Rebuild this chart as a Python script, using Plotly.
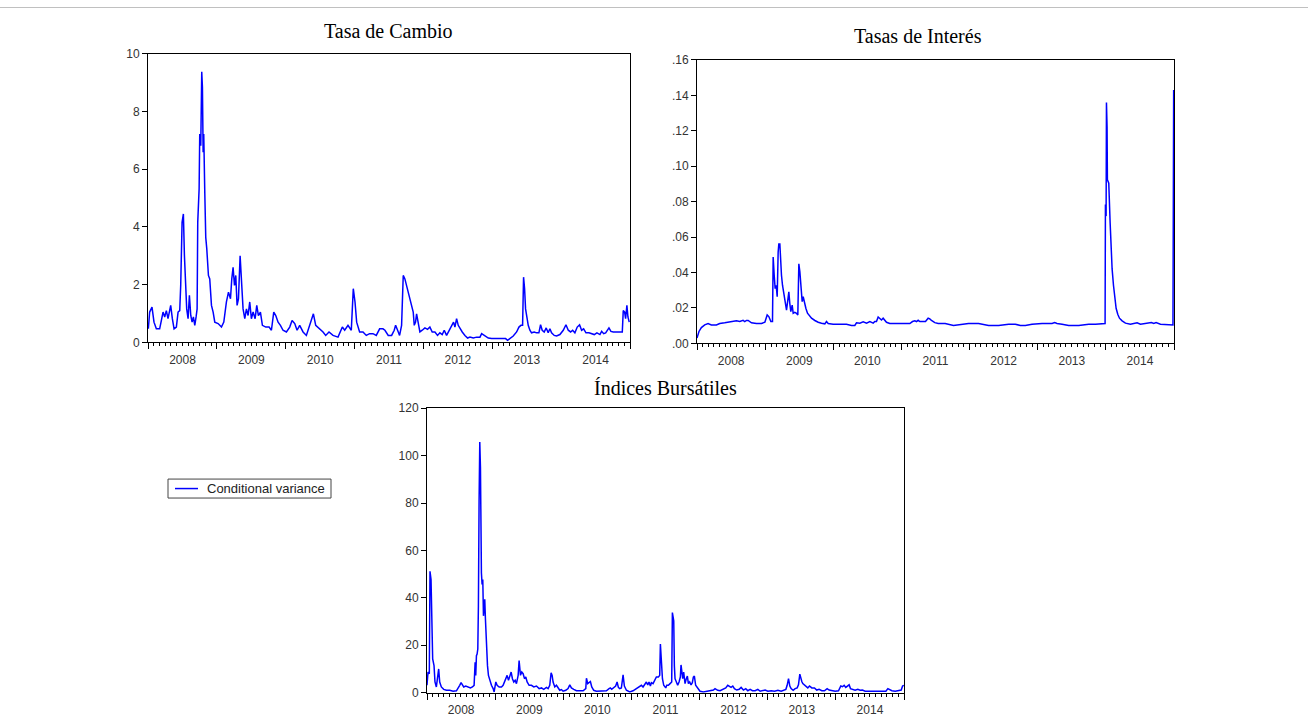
import pandas as pd
import plotly.graph_objects as go

# ---------------- data (decimal years, values) ----------------
tc_t = [2008.005, 2008.024, 2008.058, 2008.087, 2008.121, 2008.169, 2008.194, 2008.218, 2008.242, 2008.266,
        2008.290, 2008.315, 2008.329, 2008.353, 2008.378, 2008.411, 2008.436, 2008.460, 2008.474, 2008.494,
        2008.513, 2008.528, 2008.542, 2008.561, 2008.581, 2008.600, 2008.620, 2008.639, 2008.658, 2008.678,
        2008.697, 2008.712, 2008.721, 2008.741, 2008.750, 2008.765, 2008.779, 2008.789, 2008.799, 2008.808,
        2008.823, 2008.837, 2008.852, 2008.876, 2008.895, 2008.920, 2008.944, 2008.968, 2009.016, 2009.065,
        2009.099, 2009.118, 2009.137, 2009.167, 2009.196, 2009.215, 2009.234, 2009.254, 2009.273, 2009.292,
        2009.312, 2009.336, 2009.355, 2009.379, 2009.404, 2009.428, 2009.452, 2009.476, 2009.500, 2009.525,
        2009.554, 2009.578, 2009.602, 2009.631, 2009.660, 2009.709, 2009.757, 2009.791, 2009.825, 2009.854,
        2009.888, 2009.922, 2009.960, 2010.009, 2010.057, 2010.091, 2010.130, 2010.164, 2010.202, 2010.251,
        2010.299, 2010.348, 2010.377, 2010.401, 2010.435, 2010.493, 2010.541, 2010.580, 2010.628, 2010.686,
        2010.759, 2010.822, 2010.856, 2010.904, 2010.952, 2010.981, 2011.006, 2011.030, 2011.073, 2011.122,
        2011.170, 2011.218, 2011.267, 2011.315, 2011.364, 2011.412, 2011.441, 2011.489, 2011.538, 2011.576,
        2011.596, 2011.625, 2011.654, 2011.683, 2011.707, 2011.731, 2011.755, 2011.780, 2011.804, 2011.828,
        2011.852, 2011.867, 2011.886, 2011.901, 2011.925, 2011.949, 2011.983, 2012.022, 2012.060, 2012.094,
        2012.128, 2012.167, 2012.205, 2012.239, 2012.273, 2012.302, 2012.336, 2012.360, 2012.389, 2012.418,
        2012.437, 2012.457, 2012.481, 2012.505, 2012.529, 2012.563, 2012.602, 2012.641, 2012.675, 2012.723,
        2012.771, 2012.820, 2012.844, 2012.883, 2012.941, 2012.989, 2013.062, 2013.134, 2013.192, 2013.221,
        2013.255, 2013.303, 2013.352, 2013.386, 2013.415, 2013.439, 2013.453, 2013.468, 2013.482, 2013.501,
        2013.521, 2013.545, 2013.569, 2013.608, 2013.642, 2013.676, 2013.700, 2013.724, 2013.753, 2013.782,
        2013.811, 2013.836, 2013.860, 2013.899, 2013.933, 2013.981, 2014.030, 2014.069, 2014.103, 2014.137,
        2014.166, 2014.199, 2014.233, 2014.267, 2014.297, 2014.326, 2014.360, 2014.403, 2014.442, 2014.481,
        2014.519, 2014.563, 2014.588, 2014.617, 2014.646, 2014.675, 2014.694, 2014.723, 2014.757, 2014.805,
        2014.854, 2014.888, 2014.902, 2014.922, 2014.936, 2014.955, 2014.970, 2014.989]
tc_v = [0.47, 1.05, 1.22, 0.70, 0.47, 0.47, 0.76, 1.05, 0.88, 1.10,
        0.82, 1.10, 1.28, 0.82, 0.47, 0.53, 1.05, 1.10, 1.97, 4.16,
        4.45, 3.00, 2.20, 1.16, 0.82, 1.63, 0.93, 0.70, 0.88, 0.59,
        0.88, 1.16, 4.16, 5.32, 7.22, 6.82, 9.38, 8.84, 6.59, 7.22,
        5.20, 3.64, 3.24, 2.32, 2.20, 1.28, 1.05, 0.70, 0.65, 0.53,
        0.70, 1.05, 1.40, 1.74, 1.51, 2.20, 2.60, 1.97, 2.32, 1.28,
        1.51, 3.00, 2.20, 1.16, 0.82, 1.16, 0.93, 1.40, 0.82, 1.05,
        0.82, 1.28, 0.93, 1.05, 0.59, 0.53, 0.53, 0.42, 1.05, 0.93,
        0.70, 0.59, 0.42, 0.36, 0.53, 0.76, 0.65, 0.42, 0.59, 0.36,
        0.24, 0.59, 0.82, 0.99, 0.59, 0.47, 0.36, 0.24, 0.36, 0.24,
        0.18, 0.53, 0.42, 0.59, 0.42, 1.86, 1.40, 0.70, 0.36, 0.36,
        0.24, 0.30, 0.30, 0.24, 0.47, 0.47, 0.42, 0.24, 0.24, 0.42,
        0.59, 0.42, 0.24, 0.59, 2.32, 2.20, 1.97, 1.74, 1.51, 1.28,
        1.05, 0.59, 0.70, 0.99, 0.59, 0.36, 0.42, 0.50, 0.45, 0.53,
        0.36, 0.36, 0.24, 0.33, 0.27, 0.42, 0.24, 0.36, 0.47, 0.59,
        0.70, 0.53, 0.82, 0.59, 0.47, 0.36, 0.24, 0.15, 0.18, 0.15,
        0.18, 0.18, 0.30, 0.24, 0.15, 0.13, 0.13, 0.13, 0.13, 0.07,
        0.13, 0.22, 0.36, 0.53, 0.59, 0.59, 2.26, 1.86, 1.16, 0.82,
        0.59, 0.42, 0.33, 0.36, 0.33, 0.33, 0.61, 0.42, 0.36, 0.50,
        0.33, 0.47, 0.33, 0.24, 0.22, 0.27, 0.42, 0.61, 0.42, 0.36,
        0.42, 0.33, 0.53, 0.61, 0.42, 0.47, 0.33, 0.33, 0.30, 0.27,
        0.33, 0.27, 0.38, 0.30, 0.33, 0.42, 0.50, 0.38, 0.36, 0.36,
        0.36, 0.36, 1.10, 1.05, 0.82, 1.28, 0.88, 0.70]

ti_t = [2008.000, 2008.029, 2008.064, 2008.113, 2008.162, 2008.210, 2008.284, 2008.333, 2008.406, 2008.480,
        2008.529, 2008.578, 2008.627, 2008.675, 2008.700, 2008.724, 2008.749, 2008.798, 2008.871, 2008.945,
        2008.994, 2009.028, 2009.052, 2009.082, 2009.106, 2009.116, 2009.131, 2009.145, 2009.160, 2009.175,
        2009.189, 2009.199, 2009.214, 2009.224, 2009.238, 2009.253, 2009.273, 2009.292, 2009.312, 2009.331,
        2009.346, 2009.360, 2009.375, 2009.395, 2009.410, 2009.434, 2009.459, 2009.478, 2009.493, 2009.508,
        2009.522, 2009.542, 2009.557, 2009.576, 2009.596, 2009.620, 2009.645, 2009.679, 2009.728, 2009.777,
        2009.826, 2009.875, 2009.899, 2009.924, 2009.997, 2010.095, 2010.193, 2010.266, 2010.315, 2010.340,
        2010.389, 2010.438, 2010.487, 2010.536, 2010.585, 2010.609, 2010.633, 2010.658, 2010.682, 2010.707,
        2010.731, 2010.756, 2010.780, 2010.829, 2010.878, 2010.976, 2011.074, 2011.123, 2011.162, 2011.196,
        2011.221, 2011.245, 2011.270, 2011.294, 2011.319, 2011.353, 2011.392, 2011.416, 2011.441, 2011.466,
        2011.490, 2011.539, 2011.642, 2011.764, 2011.887, 2011.985, 2012.132, 2012.279, 2012.426, 2012.573,
        2012.670, 2012.744, 2012.817, 2012.915, 2013.062, 2013.209, 2013.248, 2013.282, 2013.356, 2013.454,
        2013.601, 2013.748, 2013.846, 2013.969, 2013.988, 2013.993, 2014.003, 2014.008, 2014.017, 2014.022,
        2014.042, 2014.062, 2014.076, 2014.091, 2014.111, 2014.130, 2014.150, 2014.174, 2014.199, 2014.238,
        2014.287, 2014.360, 2014.409, 2014.458, 2014.507, 2014.580, 2014.668, 2014.703, 2014.737, 2014.801,
        2014.874, 2014.948, 2014.985, 2014.995]
ti_v = [0.0030, 0.0067, 0.0089, 0.0104, 0.0112, 0.0104, 0.0104, 0.0112, 0.0116, 0.0121,
        0.0123, 0.0127, 0.0123, 0.0130, 0.0123, 0.0129, 0.0129, 0.0116, 0.0112, 0.0112,
        0.0119, 0.0160, 0.0151, 0.0123, 0.0123, 0.0487, 0.0384, 0.0309, 0.0328, 0.0263,
        0.0514, 0.0561, 0.0561, 0.0440, 0.0384, 0.0328, 0.0272, 0.0235, 0.0188, 0.0244,
        0.0291, 0.0226, 0.0179, 0.0216, 0.0170, 0.0175, 0.0170, 0.0160, 0.0449, 0.0403,
        0.0328, 0.0235, 0.0263, 0.0226, 0.0198, 0.0170, 0.0160, 0.0142, 0.0129, 0.0119,
        0.0114, 0.0110, 0.0123, 0.0112, 0.0108, 0.0108, 0.0108, 0.0101, 0.0101, 0.0116,
        0.0114, 0.0121, 0.0114, 0.0123, 0.0114, 0.0123, 0.0123, 0.0149, 0.0138, 0.0132,
        0.0142, 0.0129, 0.0119, 0.0112, 0.0112, 0.0112, 0.0112, 0.0112, 0.0123, 0.0127,
        0.0123, 0.0130, 0.0123, 0.0123, 0.0123, 0.0123, 0.0142, 0.0138, 0.0129, 0.0123,
        0.0117, 0.0112, 0.0112, 0.0101, 0.0108, 0.0112, 0.0112, 0.0101, 0.0101, 0.0108,
        0.0108, 0.0101, 0.0101, 0.0108, 0.0112, 0.0112, 0.0117, 0.0112, 0.0108, 0.0101,
        0.0101, 0.0108, 0.0108, 0.0108, 0.0112, 0.0783, 0.0718, 0.1360, 0.1220, 0.0923,
        0.0904, 0.0681, 0.0532, 0.0420, 0.0328, 0.0253, 0.0198, 0.0164, 0.0142, 0.0127,
        0.0114, 0.0108, 0.0112, 0.0116, 0.0108, 0.0112, 0.0117, 0.0112, 0.0117, 0.0108,
        0.0108, 0.0108, 0.0104, 0.1430]

ib_t = [2008.000, 2008.015, 2008.034, 2008.044, 2008.059, 2008.068, 2008.083, 2008.103, 2008.117, 2008.137,
        2008.157, 2008.171, 2008.186, 2008.210, 2008.245, 2008.284, 2008.333, 2008.382, 2008.431, 2008.455,
        2008.479, 2008.499, 2008.519, 2008.538, 2008.568, 2008.602, 2008.636, 2008.665, 2008.690, 2008.705,
        2008.714, 2008.724, 2008.734, 2008.744, 2008.753, 2008.763, 2008.773, 2008.783, 2008.788, 2008.797,
        2008.807, 2008.817, 2008.827, 2008.837, 2008.846, 2008.856, 2008.871, 2008.886, 2008.900, 2008.920,
        2008.944, 2008.969, 2008.983, 2009.008, 2009.027, 2009.057, 2009.091, 2009.115, 2009.155, 2009.174,
        2009.194, 2009.213, 2009.233, 2009.252, 2009.272, 2009.292, 2009.311, 2009.336, 2009.350, 2009.370,
        2009.389, 2009.409, 2009.429, 2009.448, 2009.468, 2009.497, 2009.531, 2009.566, 2009.605, 2009.644,
        2009.678, 2009.712, 2009.751, 2009.776, 2009.800, 2009.820, 2009.835, 2009.849, 2009.874, 2009.898,
        2009.923, 2009.947, 2009.972, 2009.996, 2010.035, 2010.069, 2010.094, 2010.118, 2010.153, 2010.192,
        2010.241, 2010.290, 2010.329, 2010.339, 2010.358, 2010.378, 2010.397, 2010.417, 2010.446, 2010.485,
        2010.534, 2010.583, 2010.632, 2010.671, 2010.690, 2010.710, 2010.734, 2010.768, 2010.789, 2010.808,
        2010.828, 2010.852, 2010.877, 2010.896, 2010.926, 2010.975, 2011.023, 2011.072, 2011.111, 2011.146,
        2011.170, 2011.195, 2011.219, 2011.239, 2011.258, 2011.278, 2011.293, 2011.317, 2011.342, 2011.366,
        2011.396, 2011.415, 2011.425, 2011.440, 2011.455, 2011.474, 2011.504, 2011.518, 2011.542, 2011.567,
        2011.591, 2011.601, 2011.611, 2011.621, 2011.630, 2011.640, 2011.660, 2011.679, 2011.699, 2011.718,
        2011.728, 2011.738, 2011.753, 2011.767, 2011.787, 2011.806, 2011.821, 2011.836, 2011.855, 2011.875,
        2011.894, 2011.909, 2011.924, 2011.943, 2011.973, 2012.007, 2012.056, 2012.105, 2012.154, 2012.203,
        2012.227, 2012.266, 2012.301, 2012.350, 2012.384, 2012.413, 2012.437, 2012.462, 2012.487, 2012.511,
        2012.545, 2012.580, 2012.609, 2012.643, 2012.677, 2012.707, 2012.741, 2012.775, 2012.814, 2012.854,
        2012.888, 2012.922, 2012.961, 2013.001, 2013.050, 2013.099, 2013.148, 2013.196, 2013.230, 2013.265,
        2013.284, 2013.304, 2013.323, 2013.342, 2013.372, 2013.401, 2013.431, 2013.450, 2013.470, 2013.484,
        2013.499, 2013.514, 2013.538, 2013.563, 2013.587, 2013.612, 2013.646, 2013.685, 2013.719, 2013.753,
        2013.793, 2013.832, 2013.871, 2013.901, 2013.940, 2013.989, 2014.038, 2014.072, 2014.096, 2014.121,
        2014.145, 2014.175, 2014.194, 2014.214, 2014.243, 2014.282, 2014.321, 2014.356, 2014.390, 2014.429,
        2014.478, 2014.527, 2014.576, 2014.626, 2014.675, 2014.734, 2014.763, 2014.783, 2014.822, 2014.871,
        2014.920, 2014.959, 2014.979, 2014.998]
ib_v = [3.1, 8.7, 8.0, 51.2, 47.7, 25.4, 14.2, 11.4, 4.5, 2.4,
        5.9, 10.0, 4.5, 2.4, 1.4, 1.0, 1.0, 0.6, 0.8, 1.7,
        3.1, 4.2, 3.1, 2.4, 2.8, 2.4, 2.0, 2.4, 3.1, 12.8,
        7.3, 15.6, 16.3, 18.4, 36.6, 81.2, 105.7, 95.0, 72.9, 50.5,
        45.6, 47.7, 32.4, 36.6, 39.4, 31.0, 19.8, 11.4, 7.3, 5.2,
        3.1, 1.7, 0.3, 4.5, 3.1, 2.4, 2.4, 3.1, 5.9, 7.3,
        5.2, 7.3, 8.7, 5.9, 4.5, 5.2, 3.8, 7.3, 13.5, 7.3,
        8.7, 8.0, 5.9, 6.6, 4.5, 3.1, 3.1, 2.4, 2.8, 1.7,
        2.0, 1.4, 2.2, 1.7, 3.1, 8.4, 7.3, 4.5, 2.4, 3.1,
        1.7, 1.0, 1.3, 0.6, 1.0, 1.7, 3.3, 2.0, 1.4, 0.8,
        0.8, 0.8, 1.7, 6.1, 3.8, 4.5, 4.7, 2.4, 1.0, 0.6,
        0.6, 0.6, 0.8, 1.7, 2.0, 1.4, 2.0, 2.8, 4.5, 2.2,
        1.7, 2.0, 7.5, 2.8, 1.0, 0.3, 0.8, 1.7, 2.4, 3.1,
        2.4, 3.8, 4.5, 3.3, 4.5, 2.8, 4.2, 3.8, 5.2, 6.6,
        6.6, 7.3, 20.5, 12.8, 5.9, 3.1, 2.0, 3.1, 3.1, 3.8,
        4.5, 33.8, 32.4, 30.3, 11.4, 5.9, 4.5, 3.1, 4.5, 6.6,
        11.7, 8.7, 5.9, 8.7, 3.8, 5.9, 7.0, 3.8, 4.5, 3.3,
        4.2, 6.6, 7.0, 3.1, 2.0, 0.6, 0.3, 0.6, 0.8, 1.1,
        1.7, 1.0, 0.8, 1.4, 2.0, 3.1, 2.8, 2.2, 2.8, 1.7,
        1.1, 1.4, 2.2, 1.1, 1.7, 0.8, 1.4, 0.8, 0.8, 1.4,
        0.6, 0.8, 1.1, 0.6, 0.8, 0.6, 1.0, 0.6, 1.1, 1.4,
        3.1, 5.9, 2.8, 1.7, 1.0, 1.7, 2.0, 3.3, 7.8, 5.9,
        4.7, 3.8, 3.3, 2.8, 2.0, 2.8, 2.0, 2.0, 1.1, 1.4,
        0.8, 0.8, 1.7, 1.1, 0.8, 0.6, 0.8, 2.8, 2.5, 3.1,
        2.2, 3.1, 3.3, 1.7, 1.4, 1.0, 1.4, 1.0, 1.1, 0.6,
        0.6, 0.6, 0.6, 0.6, 0.8, 0.6, 1.7, 1.4, 0.8, 0.6,
        0.8, 1.1, 2.8, 3.1]

titles = ["Tasa de Cambio", "Tasas de Interés", "Índices Bursátiles"]
legend_name = "Conditional variance"
ti_ticks = [0.00, 0.02, 0.04, 0.06, 0.08, 0.10, 0.12, 0.14, 0.16]
ti_ticktext = [".00", ".02", ".04", ".06", ".08", ".10", ".12", ".14", ".16"]


def to_dates(ts):
    out = []
    for t in ts:
        y = int(t)
        start = pd.Timestamp(year=y, month=1, day=1)
        days = (pd.Timestamp(year=y + 1, month=1, day=1) - start).days
        out.append(start + pd.Timedelta(days=(t - y) * days))
    return out


# full-window figure; page margin removed below
W, H = 1308, 717
VY0, VK = 6.0, 0.981   # measured vertical placement of the photographed page
BLUE = "#0000FF"


def px_x(p):
    return p / W


def px_y(t):
    p = (t - VY0) / VK
    return 1 - p / H


fig = go.Figure()
fig.add_trace(go.Scatter(x=to_dates(tc_t), y=tc_v, mode="lines", line=dict(color=BLUE, width=1.5),
                         name=legend_name, showlegend=False, xaxis="x", yaxis="y"))
fig.add_trace(go.Scatter(x=to_dates(ti_t), y=ti_v, mode="lines", line=dict(color=BLUE, width=1.5),
                         name=legend_name, showlegend=False, xaxis="x2", yaxis="y2"))
fig.add_trace(go.Scatter(x=to_dates(ib_t), y=ib_v, mode="lines", line=dict(color=BLUE, width=1.5),
                         name=legend_name, showlegend=False, xaxis="x3", yaxis="y3"))

tickfont = dict(family="Liberation Sans, Arial", size=12, color="#333333")

xcommon = dict(type="date", range=["2008-01-01", "2015-01-01"], dtick="M12", tick0="2008-01-01",
               ticklabelmode="period", tickformat="%Y", ticks="outside", ticklen=6, tickcolor="black",
               showline=True, linecolor="black", linewidth=1, mirror=True, showgrid=False, zeroline=False,
               tickfont=tickfont, fixedrange=True,
               minor=dict(dtick="M1", ticks="outside", ticklen=3, tickcolor="black", showgrid=False))
ycommon = dict(ticks="outside", ticklen=5, tickcolor="black", showline=True, linecolor="black",
               linewidth=1, mirror=True, showgrid=False, zeroline=False, tickfont=tickfont, fixedrange=True)

title_font = dict(family="Liberation Serif, Times New Roman", size=20, color="black")

# legend box (drawn to match the small EViews legend)
LX0, LX1, LY0, LY1 = 168, 331, 479, 498
LYC = (LY0 + LY1) / 2

fig.update_layout(
    width=W, height=H, margin=dict(l=0, r=0, t=0, b=0),
    paper_bgcolor="white", plot_bgcolor="white",
    xaxis=dict(xcommon, domain=[px_x(148), px_x(630)], anchor="y"),
    yaxis=dict(ycommon, domain=[px_y(342), px_y(53)], range=[0, 10], dtick=2, anchor="x"),
    xaxis2=dict(xcommon, domain=[px_x(697), px_x(1174)], anchor="y2"),
    yaxis2=dict(ycommon, domain=[px_y(343), px_y(59)], range=[0, 0.16], tickvals=ti_ticks,
                ticktext=ti_ticktext, anchor="x2"),
    xaxis3=dict(xcommon, domain=[px_x(427), px_x(904)], anchor="y3"),
    yaxis3=dict(ycommon, domain=[px_y(693), px_y(408)], range=[0, 120], dtick=20, anchor="x3"),
    showlegend=False,
    annotations=[
        dict(text=titles[0], x=px_x(388), y=px_y(30), xref="paper", yref="paper", showarrow=False,
             xanchor="center", yanchor="middle", font=title_font),
        dict(text=titles[1], x=px_x(918), y=px_y(35), xref="paper", yref="paper", showarrow=False,
             xanchor="center", yanchor="middle", font=title_font),
        dict(text=titles[2], x=px_x(666), y=px_y(388), xref="paper", yref="paper", showarrow=False,
             xanchor="center", yanchor="middle", font=title_font),
        dict(text=legend_name, x=px_x(205), y=px_y(LYC), xref="paper", yref="paper", showarrow=False,
             xanchor="left", yanchor="middle",
             font=dict(family="Liberation Sans, Arial", size=13, color="#222222")),
    ],
    shapes=[
        dict(type="line", xref="paper", yref="paper", x0=0, x1=1, y0=0.9993, y1=0.9993,
             line=dict(color="#c0c0c0", width=1)),
        dict(type="rect", xref="paper", yref="paper", x0=px_x(LX0), x1=px_x(LX1), y0=px_y(LY1),
             y1=px_y(LY0), line=dict(color="#444444", width=1), fillcolor="white"),
        dict(type="line", xref="paper", yref="paper", x0=px_x(175), x1=px_x(198), y0=px_y(LYC),
             y1=px_y(LYC), line=dict(color=BLUE, width=1.5)),
    ],
)

fig.write_html("out.html", config={"displayModeBar": False},
               post_script="document.body.style.margin='0';document.body.style.overflow='hidden';")
